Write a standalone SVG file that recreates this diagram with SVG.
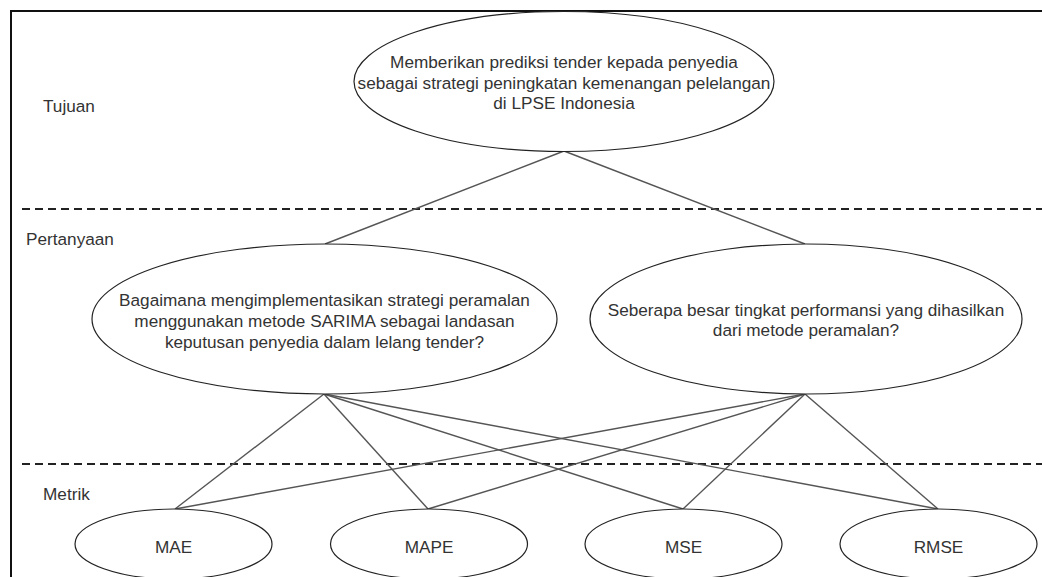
<svg xmlns="http://www.w3.org/2000/svg" width="1042" height="577" viewBox="0 0 1042 577">
<style>
.bg{fill:#fff}
.frame{stroke:#111;stroke-width:2;fill:none}
.dash{stroke:#222;stroke-width:2;stroke-dasharray:8 5;fill:none}
.node{fill:#fff;stroke:#222;stroke-width:1.2}
.edge{stroke:#555;stroke-width:1.4;fill:none}
text{font-family:"Liberation Sans",Arial,sans-serif;font-size:17.2px;fill:#333}
.c{text-anchor:middle}
</style>
<rect class="bg" x="0" y="0" width="1042" height="577"/>
<path class="frame" d="M11,577 V11 H1042"/>
<line class="dash" x1="22" y1="209" x2="1042" y2="209"/>
<line class="dash" x1="22" y1="464" x2="1042" y2="464"/>
<text x="43" y="112">Tujuan</text>
<text x="26" y="245">Pertanyaan</text>
<text x="43" y="500">Metrik</text>
<g id="connectors">
<line class="edge" x1="564" y1="151" x2="325" y2="244"/>
<line class="edge" x1="564" y1="151" x2="805" y2="244"/>
<line class="edge" x1="324" y1="394" x2="175" y2="509"/>
<line class="edge" x1="324" y1="394" x2="428" y2="509"/>
<line class="edge" x1="324" y1="394" x2="683" y2="509"/>
<line class="edge" x1="324" y1="394" x2="938" y2="509"/>
<line class="edge" x1="805" y1="394" x2="175" y2="509"/>
<line class="edge" x1="805" y1="394" x2="428" y2="509"/>
<line class="edge" x1="805" y1="394" x2="683" y2="509"/>
<line class="edge" x1="805" y1="394" x2="938" y2="509"/>
</g>
<g id="tujuan">
<ellipse class="node" cx="564" cy="81.5" rx="210" ry="70"/>
<text class="c" x="564" y="68">Memberikan prediksi tender kepada penyedia</text>
<text class="c" x="564" y="89">sebagai strategi peningkatan kemenangan pelelangan</text>
<text class="c" x="564" y="109">di LPSE Indonesia</text>
</g>
<g id="q1">
<ellipse class="node" cx="324.5" cy="319" rx="232.5" ry="75"/>
<text class="c" x="324.5" y="306">Bagaimana mengimplementasikan strategi peramalan</text>
<text class="c" x="324.5" y="327">menggunakan metode SARIMA sebagai landasan</text>
<text class="c" x="324.5" y="348">keputusan penyedia dalam lelang tender?</text>
</g>
<g id="q2">
<ellipse class="node" cx="806" cy="319" rx="216" ry="75"/>
<text class="c" x="806" y="316">Seberapa besar tingkat performansi yang dihasilkan</text>
<text class="c" x="806" y="336">dari metode peramalan?</text>
</g>
<g id="mae">
<ellipse class="node" cx="173.5" cy="544" rx="98.5" ry="35"/>
<text class="c" x="173.5" y="553">MAE</text>
</g>
<g id="mape">
<ellipse class="node" cx="429" cy="544" rx="98.5" ry="35"/>
<text class="c" x="429" y="553">MAPE</text>
</g>
<g id="mse">
<ellipse class="node" cx="683.5" cy="544" rx="98.5" ry="35"/>
<text class="c" x="683.5" y="553">MSE</text>
</g>
<g id="rmse">
<ellipse class="node" cx="938.5" cy="544" rx="98.5" ry="35"/>
<text class="c" x="938.5" y="553">RMSE</text>
</g>
</svg>
